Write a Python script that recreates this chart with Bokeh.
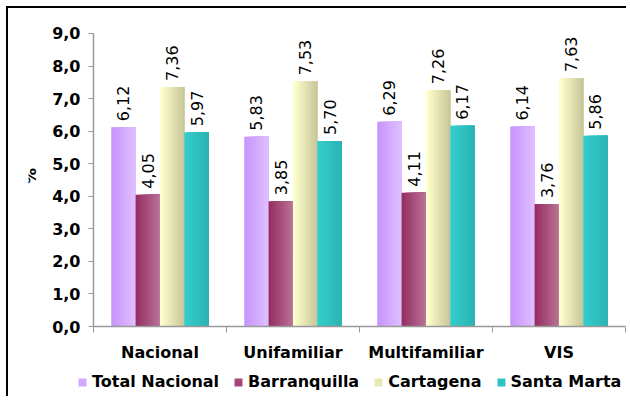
import math
from bokeh.plotting import figure
from bokeh.models import (ColumnDataSource, FixedTicker, Legend, LegendItem,
                          Range1d, LabelSet, Label)
from bokeh.embed import file_html
from bokeh.resources import INLINE
from bokeh.core.properties import value

# ---- data ----
categories = ["Nacional", "Unifamiliar", "Multifamiliar", "VIS"]
series_names = ["Total Nacional", "Barranquilla", "Cartagena", "Santa Marta"]
total_nacional = [6.12, 5.83, 6.29, 6.14]
barranquilla = [4.05, 3.85, 4.11, 3.76]
cartagena = [7.36, 7.53, 7.26, 7.63]
santa_marta = [5.97, 5.70, 6.17, 5.86]
y_ticks = [0, 1, 2, 3, 4, 5, 6, 7, 8, 9]
y_tick_labels = ["0,0", "1,0", "2,0", "3,0", "4,0", "5,0", "6,0", "7,0", "8,0", "9,0"]
y_title = "%"

series_values = [total_nacional, barranquilla, cartagena, santa_marta]
# gradient colour pairs (left -> right)
series_colors = [((0xC8, 0x96, 0xFC), (0xDE, 0xBE, 0xFF)),
                 ((0x96, 0x30, 0x63), (0xB8, 0x70, 0x94)),
                 ((0xFF, 0xFF, 0xCC), (0xC8, 0xC8, 0x9C)),
                 ((0x33, 0xCC, 0xCC), (0x2C, 0xB4, 0xB4))]
legend_colors = ["#D2A6FF", "#A4487A", "#E8E8B4", "#31C3C3"]

FONT = "DejaVu Sans"
bar_w = 0.184
offsets = [-0.2745, -0.0915, 0.0915, 0.2745]
n_strips = 10
ncat = len(categories)
# plot range padding (room for axis texts / legend around the axes)
x_lo, x_hi = -65 / 133, ncat + 3 / 133
y_low, y_high = -2.211, y_ticks[-1] + 13 / 32.56

p = figure(width=620, height=390, x_range=Range1d(x_lo, x_hi),
           y_range=Range1d(y_low, y_high), x_axis_location="above",
           output_backend="svg", toolbar_location=None,
           min_border_left=20, min_border_right=0, min_border_top=12, min_border_bottom=0)
p.grid.visible = False
p.outline_line_color = None
p.background_fill_color = "white"
p.border_fill_color = "white"

legend_items = []
for s, (name, vals, (c0, c1)) in enumerate(zip(series_names, series_values, series_colors)):
    base_x = [i + 0.5 + offsets[s] for i in range(ncat)]
    for k in range(n_strips):
        t = k / (n_strips - 1)
        col = "#%02x%02x%02x" % tuple(int(round(a + (b - a) * t)) for a, b in zip(c0, c1))
        src = ColumnDataSource(dict(left=[bx - bar_w / 2 + k * bar_w / n_strips for bx in base_x],
                                    right=[bx + bar_w / 2 for bx in base_x],
                                    top=vals, bottom=[0] * len(vals)))
        p.quad(left="left", right="right", top="top", bottom="bottom", source=src,
               fill_color=col, line_color=None)
    lab_src = ColumnDataSource(dict(x=base_x, y=vals,
                                    t=[("%.2f" % v).replace(".", ",") for v in vals]))
    p.add_layout(LabelSet(x="x", y="y", text="t", source=lab_src, angle=90, angle_units="deg",
                          text_align="left", text_baseline="middle", y_offset=6,
                          text_font=value(FONT), text_font_size="16px", text_color="black"))
    dummy = p.quad(left=[0], right=[0], top=[0], bottom=[0],
                   fill_color=legend_colors[s], line_color=None)
    legend_items.append(LegendItem(label=name, renderers=[dummy]))

# category names under the zero line
cat_src = ColumnDataSource(dict(x=[i + 0.5 for i in range(ncat)],
                                y=[0] * ncat, t=categories))
p.add_layout(LabelSet(x="x", y="y", text="t", source=cat_src, y_offset=-26,
                      text_align="center", text_baseline="middle",
                      text_font=value(FONT), text_font_style="bold",
                      text_font_size="16px", text_color="black"))

# y tick labels and title, left of the y axis at x = 0
yt_src = ColumnDataSource(dict(x=[0] * len(y_ticks), y=y_ticks, t=y_tick_labels))
p.add_layout(LabelSet(x="x", y="y", text="t", source=yt_src, x_offset=-13,
                      text_align="right", text_baseline="middle",
                      text_font=value(FONT), text_font_style="bold",
                      text_font_size="16px", text_color="black"))
p.add_layout(Label(x=0, y=(y_ticks[0] + y_ticks[-1]) / 2, text=y_title, x_offset=-63,
                   y_offset=4, angle=90, angle_units="deg",
                   text_align="center", text_baseline="middle",
                   text_font=FONT, text_font_style="bold",
                   text_font_size="16px", text_color="black"))

# x axis (drawn at y = 0), tick marks only at category boundaries
xa = p.xaxis[0]
xa.fixed_location = 0
xa.bounds = (0, ncat)
xa.ticker = FixedTicker(ticks=[], minor_ticks=list(range(ncat + 1)))
xa.major_tick_line_color = None
xa.minor_tick_line_color = "#999999"
xa.minor_tick_in = 6
xa.minor_tick_out = 0
xa.major_label_standoff = 0
xa.axis_line_color = "#999999"
xa.axis_line_width = 1.5

# y axis (drawn at x = 0), tick marks only (labels are drawn above)
ya = p.yaxis[0]
ya.fixed_location = 0
ya.bounds = (y_ticks[0], y_ticks[-1])
ya.ticker = FixedTicker(ticks=[], minor_ticks=y_ticks)
ya.major_tick_line_color = None
ya.minor_tick_line_color = "#999999"
ya.minor_tick_in = 0
ya.minor_tick_out = 5
ya.major_label_standoff = 0
ya.axis_line_color = "#999999"
ya.axis_line_width = 1.5

legend = Legend(items=legend_items, orientation="horizontal", location=(49, 7),
                label_text_font=FONT, label_text_font_style="bold",
                label_text_font_size="16px", label_text_color="black",
                glyph_width=10, glyph_height=10, label_standoff=5, spacing=14,
                padding=0, margin=0, border_line_color=None,
                background_fill_alpha=0)
p.add_layout(legend, "center")

p.styles = {"margin-left": "6px", "margin-top": "6px",
            "border-left": "2px solid black", "border-top": "2px solid black"}

open("out.html", "w").write(file_html(p, INLINE))
